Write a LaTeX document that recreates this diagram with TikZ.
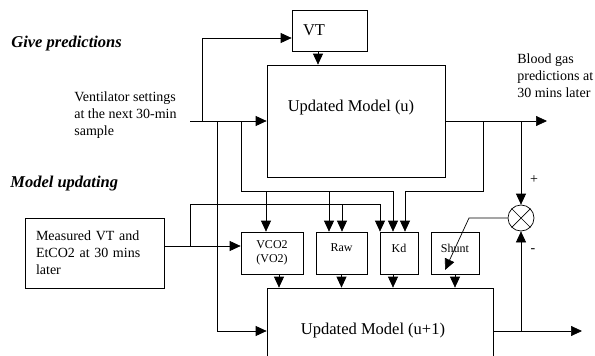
\documentclass[tikz,border=0pt]{standalone}
\usepackage{fontspec}
\setmainfont{Liberation Serif}
\usetikzlibrary{arrows.meta}
\usetikzlibrary{positioning}
\tikzset{arr/.style = {-{Triangle[length=11pt, width=10pt]}}}
\tikzset{box/.style = {draw, rectangle, inner sep = 0}}
\tikzset{sbox/.style = {draw, rectangle, inner sep = 0, minimum height = 42,
                        font = \fontsize{12}{14}\selectfont, align = center}}
\tikzset{sboxup/.style = {sbox, text depth = 10pt}}
\tikzset{txt/.style = {inner sep = 0, align = left, font = \fontsize{14}{17}\selectfont}}
\tikzset{big/.style = {inner sep = 0, font = \fontsize{16.5}{19}\selectfont}}
\tikzset{head/.style = {inner sep = 0, font = \bfseries\itshape\fontsize{16.5}{19}\selectfont}}

\begin{document}
\begin{tikzpicture}[x = 1pt, y = -1pt, line width = 0.7pt]
    \useasboundingbox (0, 0) rectangle (595, 356);

    \node [head, anchor = base west] (hpred) at (11, 47) {Give predictions};
    \node [head, anchor = base west] (hupd) at (10, 187) {Model updating};

    \node [txt, anchor = north west] (vent) at (74, 91) {Ventilator settings\\at the next 30-min\\sample};
    \node [txt, anchor = north west] (blood) at (517, 53) {Blood gas\\predictions at\\30 mins later};

    \node [box, big, minimum width = 75, minimum height = 41, inner xsep = 11,
           text width = 53, align = left] (vt) at (329.5, 30.5) {VT};
    \node [box, minimum width = 178, minimum height = 112] (mu) at (356, 121) {};
    \node [big, anchor = base] (mutext) at (351, 111) {Updated Model (u)};

    \node [box, txt, minimum width = 139, minimum height = 70, inner xsep = 11,
           text width = 117] (meas) at (94.5, 253) {Measured VT and\\EtCO2 at 30 mins\\later};

    \node [sbox, minimum width = 62] (vco) at (272, 253) {VCO2\\(VO2)};
    \node [sboxup, minimum width = 51] (raw) at (341.5, 253) {Raw};
    \node [sboxup, minimum width = 38] (kd) at (399, 253) {Kd};
    \node [sboxup, minimum width = 48] (shunt) at (455, 253) {Shunt};

    \node [box, minimum width = 226, minimum height = 86] (mu1) at (380, 331) {};
    \node [big, anchor = base] (mu1text) at (373, 334) {Updated Model (u+1)};

    \node [draw, circle, inner sep = 0, minimum size = 26] (cmp) at (521, 218) {};
    \draw (cmp.45) -- (cmp.225) (cmp.135) -- (cmp.315);
    \node [font = \fontsize{14}{16}\selectfont] (plus) at (534, 180) {+};
    \node [font = \fontsize{14}{16}\selectfont] (minus) at (533, 251) {-};

    % inputs to the prediction model
    \coordinate (vin) at (190, 121);
    \coordinate (jvt) at (202, 121);
    \coordinate (jdown) at (217, 121);
    \coordinate (jpar) at (241, 121);
    \draw [arr] (vin) -- (mu.west);
    \draw [arr] (jvt) |- ([yshift=-7.5pt]vt.west);
    \draw [arr] ([xshift=-11.5pt]vt.south) -- ([xshift=-11.5pt]vt.south |- mu.north);
    \draw [arr] (jdown) |- (mu1.west);

    \coordinate (pv) at (266, 191);
    \coordinate (pr) at (329, 191);
    \coordinate (pk) at (393, 191);
    \draw (jpar) |- (pk);
    \draw [arr] (pv) -- (pv |- vco.north);
    \draw [arr] (pr) -- (pr |- raw.north);
    \draw [arr] (pk) -- (pk |- kd.north);

    % measured values
    \coordinate (jm) at (190, 246);
    \coordinate (qr) at (342, 204);
    \coordinate (qk) at (380, 204);
    \draw [arr] ([yshift=7pt]meas.east) -- ([yshift=7pt]vco.west);
    \draw (jm) |- (qk);
    \draw [arr] (qr) -- (qr |- raw.north);
    \draw [arr] (qk) -- (qk |- kd.north);

    % predictions and feedback
    \coordinate (uout) at (547, 121);
    \coordinate (jfb) at (483, 121);
    \coordinate (rk) at (405, 191);
    \coordinate (jcmp) at (521, 121);
    \draw [arr] (mu.east) -- (uout);
    \draw (jfb) |- (rk);
    \draw [arr] (rk) -- (rk |- kd.north);
    \draw [arr] (jcmp) -- (cmp.north);

    \coordinate (sbend) at (469, 218);
    \coordinate (stip) at (445, 270);
    \draw [arr] (cmp.west) -- (sbend) -- (stip);

    \coordinate (u1out) at (582, 331);
    \coordinate (jm1) at (521, 331);
    \draw [arr] (mu1.east) -- (u1out);
    \draw [arr] (jm1) -- (cmp.south);

    % parameters into the new model
    \draw [arr] ([xshift=7pt]vco.south) -- ([xshift=7pt]vco.south |- mu1.north);
    \draw [arr] (raw.south) -- (raw.south |- mu1.north);
    \draw [arr] ([xshift=-6pt]kd.south) -- ([xshift=-6pt]kd.south |- mu1.north);
    \draw [arr] (shunt.south) -- (shunt.south |- mu1.north);
\end{tikzpicture}
\end{document}
